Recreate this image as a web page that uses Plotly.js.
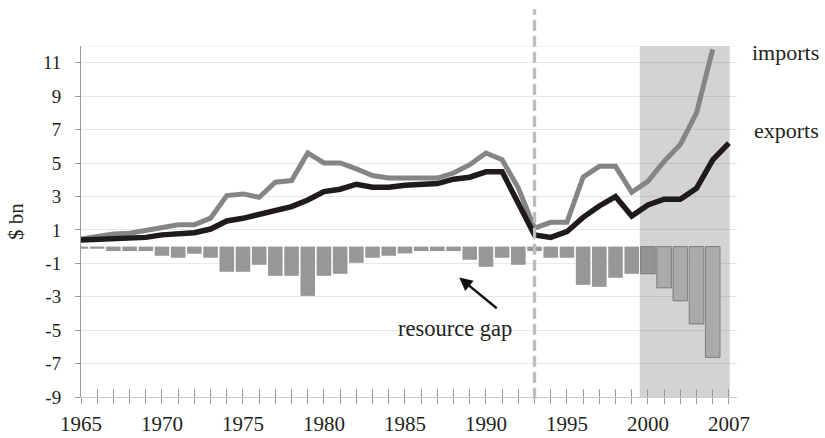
<!DOCTYPE html>
<html>
<head>
<meta charset="utf-8">
<script src="https://cdn.plot.ly/plotly-3.0.1.min.js"></script>
<style>
  html, body { margin: 0; padding: 0; background: #ffffff; }
  #chart { width: 825px; height: 438px; }
</style>
</head>
<body>
<div id="chart"></div>
<script>
// ---- data ----
const years = [1965, 1966, 1967, 1968, 1969, 1970, 1971, 1972, 1973, 1974,
               1975, 1976, 1977, 1978, 1979, 1980, 1981, 1982, 1983, 1984,
               1985, 1986, 1987, 1988, 1989, 1990, 1991, 1992, 1993, 1994,
               1995, 1996, 1997, 1998, 1999, 2000, 2001, 2002, 2003, 2004,
               2005];

// imports, $ bn (1965-2004)
const imports = [0.45, 0.6, 0.75, 0.8, 0.95, 1.15, 1.3, 1.3, 1.7, 3.05,
                 3.15, 2.95, 3.85, 3.95, 5.6, 5.0, 5.0, 4.65, 4.25, 4.1,
                 4.1, 4.1, 4.1, 4.4, 4.9, 5.6, 5.2, 3.5, 1.1, 1.45,
                 1.45, 4.15, 4.8, 4.8, 3.25, 3.9, 5.1, 6.1, 8.0, 11.8];

// exports, $ bn (1965-2005)
const exportsData = [0.4, 0.42, 0.45, 0.45, 0.55, 0.7, 0.73, 0.83, 1.05, 1.53,
                     1.69, 1.95, 2.13, 2.39, 2.79, 3.29, 3.43, 3.73, 3.55, 3.55,
                     3.67, 3.75, 3.77, 4.03, 4.15, 4.47, 4.47, 2.59, 0.69, 0.55,
                     0.89, 1.75, 2.43, 2.99, 1.83, 2.49, 2.83, 2.83, 3.49, 5.19,
                     6.19];

// resource gap, $ bn (1965-2004)
const resourceGap = [-0.13, -0.13, -0.27, -0.27, -0.27, -0.55, -0.67, -0.43, -0.67, -1.51,
                     -1.51, -1.09, -1.75, -1.75, -2.95, -1.75, -1.63, -0.97, -0.67, -0.55,
                     -0.41, -0.27, -0.27, -0.27, -0.79, -1.21, -0.67, -1.09, -0.27, -0.67,
                     -0.67, -2.29, -2.41, -1.87, -1.63, -1.63, -2.47, -3.25, -4.63, -6.63];

// axis ticks
const xTickVals = [1965, 1970, 1975, 1980, 1985, 1990, 1995, 2000, 2005];
const xTickText = ["1965", "1970", "1975", "1980", "1985", "1990", "1995", "2000", "2007"];
const yTickVals = [-9, -7, -5, -3, -1, 1, 3, 5, 7, 9, 11];
const yTickText = ["-9", "-7", "-5", "-3", "-1", "1", "3", "5", "7", "9", "11"];

// markers in the chart
const dividerYear = 1993;
const shadeStart = 1999.5;
const shadeEnd = 2005.05;
const yMin = -9, yMax = 12;
const xMin = 1965, xMax = 2005.5;

// ---- styling ----
const FONT = "'Liberation Serif', 'DejaVu Serif', serif";
const TXT = "#231f20";
const gapYears = years.slice(0, resourceGap.length);
const barFill = gapYears.map(y => y >= 2001 ? "#aba9a9" : (y === 2000 ? "#939393" : "#979797"));
const barLine = gapYears.map(y => y >= 2000 ? "#7e7e7e" : "rgba(0,0,0,0)");

const traces = [
  {
    type: "bar",
    x: gapYears,
    y: resourceGap,
    marker: { color: barFill, line: { color: barLine, width: 1 } },
    width: 0.9,
    hoverinfo: "x+y",
    name: "resource gap"
  },
  {
    type: "scatter",
    mode: "lines",
    x: years.slice(0, imports.length),
    y: imports,
    line: { color: "#858585", width: 5 },
    name: "imports"
  },
  {
    type: "scatter",
    mode: "lines",
    x: years,
    y: exportsData,
    line: { color: "#1f1b1c", width: 5.5 },
    name: "exports"
  },
  {
    // carrier for the inward half of the x tick marks
    type: "scatter",
    mode: "markers",
    x: years,
    y: years.map(() => null),
    xaxis: "x2",
    yaxis: "y",
    hoverinfo: "skip",
    showlegend: false,
    marker: { opacity: 0 }
  }
];

const layout = {
  width: 825,
  height: 438,
  margin: { l: 81, r: 88, t: 46, b: 41 },
  paper_bgcolor: "#ffffff",
  plot_bgcolor: "#ffffff",
  showlegend: false,
  font: { family: FONT, color: TXT },
  xaxis: {
    range: [xMin, xMax],
    tickmode: "array",
    tickvals: years,
    ticktext: years.map(y => {
      const i = xTickVals.indexOf(y);
      return i >= 0 ? xTickText[i] : "";
    }),
    ticks: "outside",
    ticklen: 6,
    tickwidth: 1,
    tickcolor: "#9a9a9a",
    tickfont: { family: FONT, size: 21, color: TXT },
    ticklabelstandoff: 2,
    showgrid: false,
    zeroline: false,
    showline: true,
    linecolor: "#c9c9c9",
    linewidth: 1,
    fixedrange: true
  },
  xaxis2: {
    overlaying: "x",
    anchor: "y",
    side: "bottom",
    range: [xMin, xMax],
    tickmode: "array",
    tickvals: years,
    ticks: "inside",
    ticklen: 8,
    tickwidth: 1,
    tickcolor: "#9a9a9a",
    showticklabels: false,
    showgrid: false,
    zeroline: false,
    showline: false,
    fixedrange: true
  },
  yaxis: {
    range: [yMin, yMax],
    tickmode: "array",
    tickvals: yTickVals,
    ticktext: yTickText,
    ticks: "outside",
    ticklen: 5,
    tickwidth: 1,
    tickcolor: "#9a9a9a",
    tickfont: { family: FONT, size: 19, color: TXT },
    ticklabelstandoff: 10,
    showgrid: true,
    gridcolor: "rgba(0,0,0,0.09)",
    gridwidth: 1,
    zeroline: false,
    showline: true,
    linecolor: "#9a9a9a",
    linewidth: 1,
    title: { text: "$ bn", font: { family: FONT, size: 21, color: TXT }, standoff: 13 },
    fixedrange: true
  },
  shapes: [
    {
      type: "rect", layer: "below",
      xref: "x", yref: "y",
      x0: shadeStart, x1: shadeEnd, y0: yMin, y1: yMax,
      fillcolor: "#d3d3d5", line: { width: 0 }
    },
    {
      type: "line", layer: "below",
      xref: "paper", yref: "y",
      x0: 0, x1: 1, y0: yMax, y1: yMax,
      line: { color: "rgba(0,0,0,0.09)", width: 1 }
    },
    {
      type: "line", layer: "above",
      xref: "x", yref: "paper",
      x0: dividerYear, x1: dividerYear, y0: -0.005, y1: 1.105,
      line: { color: "#bdbdbd", width: 3.3, dash: "11px,5px" }
    }
  ],
  annotations: [
    {
      xref: "paper", yref: "y", x: 1.0, y: 11.6,
      xanchor: "left", yanchor: "middle", xshift: 13,
      text: "imports", showarrow: false,
      font: { family: FONT, size: 22, color: TXT }
    },
    {
      xref: "paper", yref: "y", x: 1.0, y: 6.95,
      xanchor: "left", yanchor: "middle", xshift: 15,
      text: "exports", showarrow: false,
      font: { family: FONT, size: 22, color: TXT }
    },
    {
      xref: "x", yref: "y", x: 1988.1, y: -4.9,
      xanchor: "center", yanchor: "middle",
      text: "resource gap", showarrow: false,
      font: { family: FONT, size: 22.5, color: TXT }
    },
    {
      xref: "x", yref: "y", x: 1988.35, y: -1.85,
      text: "", showarrow: true,
      ax: 39, ay: 32,
      arrowhead: 2, arrowsize: 1.1, arrowwidth: 2.4, arrowcolor: "#111111",
      standoff: 0
    }
  ]
};

Plotly.newPlot("chart", traces, layout, { staticPlot: true, displayModeBar: false });
</script>
</body>
</html>
